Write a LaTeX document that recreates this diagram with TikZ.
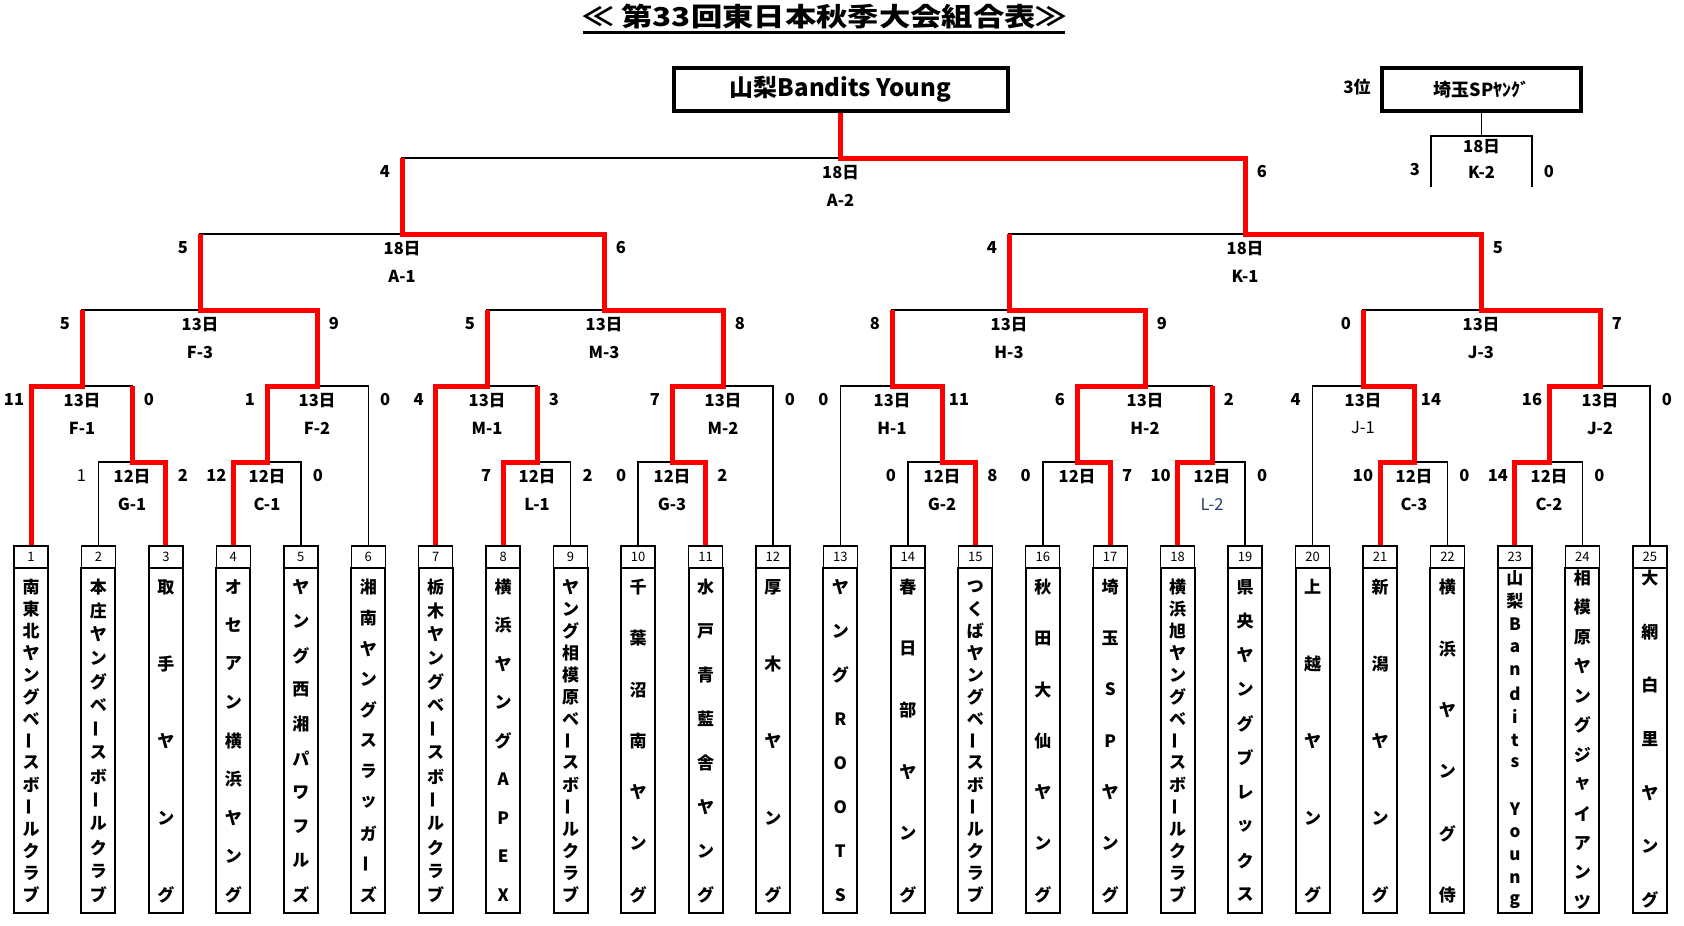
\documentclass[tikz,border=0pt]{standalone}
\usepackage{fontspec}
\setmainfont{Noto Sans CJK JP}
\definecolor{codeblue}{RGB}{40,60,110}
\newcommand\cho{\rotatebox[origin=c]{90}{ー}}
\newcommand\team[5]{%
  \pgfmathsetmacro\tx{31+(#1-1)*67.45}%
  \node[numbox] (n#1) at (\tx,557) {#1};
  \node[namebox] (b#1) at (\tx,740.5) {};
  \coordinate (t#1) at (n#1.north);
  \foreach \ch [count=\i from 0] in {#5} {%
    \pgfmathsetmacro\ty{#3+\i*(#4-#3)/(#2-1)}%
    \node[nch] (c#1-\i) at (\tx,\ty) {\ch};}%
}
\newcommand\mlab[9]{%
  \node[lab] (d#1) at (#2,#3+14.5) {#4};
  \node[lab] (k#1) at (#2,#3+42) {#5};
  \node[lab] (sl#1) at (#6-17,#3+13.5) {#8};
  \node[lab] (sr#1) at (#7+17,#3+13.5) {#9};}
\begin{document}
\begin{tikzpicture}[x=1pt,y=-1pt,
  numbox/.style={draw,line width=1.4pt,minimum width=34pt,minimum height=22pt,inner sep=0pt,font=\fontsize{13pt}{13pt}\selectfont},
  namebox/.style={draw,line width=2pt,minimum width=34pt,minimum height=345pt,inner sep=0pt},
  nch/.style={inner sep=0pt,font=\fontsize{17pt}{17pt}\selectfont\bfseries},
  lab/.style={inner sep=0pt,font=\fontsize{16.5pt}{17pt}\selectfont\bfseries},
  br/.style={line width=1.5pt,black},
  brt/.style={line width=2pt,black},
  win/.style={line width=5pt,red},
  bigbox/.style={draw,line width=4pt,inner sep=0pt}]
\fill[white] (0,0) rectangle (1684,926);
\useasboundingbox (0,0) rectangle (1684,926);

% title
\node[inner sep=0pt] (title) at (825,17) {\resizebox{484pt}{\height}{\fontsize{26pt}{26pt}\selectfont\bfseries ≪ 第33回東日本秋季大会組合表≫}};
\coordinate (ul1) at (583,32);
\coordinate (ul2) at (1065,32);
\draw[line width=3pt] (ul1) -- (ul2);

% champion and third place
\node[bigbox,minimum width=334pt,minimum height=43pt,font=\fontsize{24pt}{24pt}\selectfont\bfseries] (champ) at (840.5,89.5) {山梨Bandits Young};
\node[bigbox,minimum width=199pt,minimum height=43pt,font=\fontsize{18pt}{18pt}\selectfont\bfseries] (third) at (1481.5,89.5) {埼玉SPﾔﾝｸﾞ};
\node[inner sep=0pt,font=\fontsize{17pt}{17pt}\selectfont\bfseries] (thirdlab) at (1357,87) {3位};

% teams
\team{1}{15}{587}{895}{南,東,北,ヤ,ン,グ,ベ,\cho,ス,ボ,\cho,ル,ク,ラ,ブ}
\team{2}{14}{587}{895}{本,庄,ヤ,ン,グ,ベ,\cho,ス,ボ,\cho,ル,ク,ラ,ブ}
\team{3}{5}{587}{895}{取,手,ヤ,ン,グ}
\team{4}{9}{587}{895}{オ,セ,ア,ン,横,浜,ヤ,ン,グ}
\team{5}{10}{587}{895}{ヤ,ン,グ,西,湘,パ,ワ,フ,ル,ズ}
\team{6}{11}{587}{895}{湘,南,ヤ,ン,グ,ス,ラ,ッ,ガ,\cho,ズ}
\team{7}{14}{587}{895}{栃,木,ヤ,ン,グ,ベ,\cho,ス,ボ,\cho,ル,ク,ラ,ブ}
\team{8}{9}{587}{895}{横,浜,ヤ,ン,グ,A,P,E,X}
\team{9}{15}{587}{895}{ヤ,ン,グ,相,模,原,ベ,\cho,ス,ボ,\cho,ル,ク,ラ,ブ}
\team{10}{7}{587}{895}{千,葉,沼,南,ヤ,ン,グ}
\team{11}{8}{587}{895}{水,戸,青,藍,舎,ヤ,ン,グ}
\team{12}{5}{587}{895}{厚,木,ヤ,ン,グ}
\team{13}{8}{587}{895}{ヤ,ン,グ,R,O,O,T,S}
\team{14}{6}{587}{895}{春,日,部,ヤ,ン,グ}
\team{15}{15}{587}{895}{つ,く,ば,ヤ,ン,グ,ベ,\cho,ス,ボ,\cho,ル,ク,ラ,ブ}
\team{16}{7}{587}{895}{秋,田,大,仙,ヤ,ン,グ}
\team{17}{7}{587}{895}{埼,玉,S,P,ヤ,ン,グ}
\team{18}{15}{587}{895}{横,浜,旭,ヤ,ン,グ,ベ,\cho,ス,ボ,\cho,ル,ク,ラ,ブ}
\team{19}{10}{587}{895}{県,央,ヤ,ン,グ,ブ,レ,ッ,ク,ス}
\team{20}{5}{587}{895}{上,越,ヤ,ン,グ}
\team{21}{5}{587}{895}{新,潟,ヤ,ン,グ}
\team{22}{6}{587}{895}{横,浜,ヤ,ン,グ,侍}
\team{23}{15}{578}{902}{山,梨,B,a,n,d,i,t,s,{},Y,o,u,n,g}
\team{24}{12}{578}{902}{相,模,原,ヤ,ン,グ,ジ,ャ,イ,ア,ン,ツ}
\team{25}{7}{578}{900}{大,網,白,里,ヤ,ン,グ}

% match centres
\coordinate (mG1) at (132,462);
\coordinate (mC1) at (267,462);
\coordinate (mL1) at (537,462);
\coordinate (mG3) at (672,462);
\coordinate (mG2) at (942,462);
\coordinate (mX) at (1077,462);
\coordinate (mL2) at (1212,462);
\coordinate (mC3) at (1414,462);
\coordinate (mC2) at (1549,462);
\coordinate (mF1) at (82,386);
\coordinate (mF2) at (317,386);
\coordinate (mM1) at (487,386);
\coordinate (mM2) at (723,386);
\coordinate (mH1) at (892,386);
\coordinate (mH2) at (1145,386);
\coordinate (mJ1) at (1363,386);
\coordinate (mJ2) at (1600,386);
\coordinate (mF3) at (200,310);
\coordinate (mM3) at (604,310);
\coordinate (mH3) at (1009,310);
\coordinate (mJ3) at (1481,310);
\coordinate (mA1) at (402,234);
\coordinate (mK1) at (1245,234);
\coordinate (mA2) at (840.5,158);
\coordinate (mK2) at (1481.5,136);
\coordinate (kl) at (1431,187);
\coordinate (kr) at (1532,187);

% black bracket
\foreach \c/\m in {t2/mG1,t3/mG1,t4/mC1,t5/mC1,t8/mL1,t9/mL1,t10/mG3,t11/mG3,t14/mG2,t15/mG2,t16/mX,t17/mX,t18/mL2,t19/mL2,t21/mC3,t22/mC3,t23/mC2,t24/mC2,
  t1/mF1,mG1/mF1,mC1/mF2,t6/mF2,t7/mM1,mL1/mM1,mG3/mM2,t12/mM2,t13/mH1,mG2/mH1,mX/mH2,mL2/mH2,t20/mJ1,mC3/mJ1,mC2/mJ2,t25/mJ2,
  mF1/mF3,mF2/mF3,mM1/mM3,mM2/mM3,mH1/mH3,mH2/mH3,mJ1/mJ3,mJ2/mJ3,
  mF3/mA1,mM3/mA1,mH3/mK1,mJ3/mK1}
  {\draw[br] (\c) |- (\m);}
\draw[brt] (mA1) |- (mA2);
\draw[brt] (mK1) |- (mA2);
\draw[br] (third.south) -- (mK2);
\draw[br] (kl) |- (mK2);
\draw[br] (kr) |- (mK2);

% winners' paths
\draw[win] (t1) |- (mF1) -- (mF1 |- mF3);
\draw[win] (t3) |- (mG1) -- (mG1 |- mF1);
\draw[win] (t4) |- (mC1) |- (mF2) |- (mF3) -- (mF3 |- mA1);
\draw[win] (t7) |- (mM1) -- (mM1 |- mM3);
\draw[win] (t8) |- (mL1) -- (mL1 |- mM1);
\draw[win] (t11) |- (mG3) |- (mM2) |- (mM3) |- (mA1) -- (mA1 |- mA2);
\draw[win] (t15) |- (mG2) |- (mH1) -- (mH1 |- mH3);
\draw[win] (t17) |- (mX) |- (mH2) |- (mH3) -- (mH3 |- mK1);
\draw[win] (t18) |- (mL2) -- (mL2 |- mH2);
\draw[win] (t21) |- (mC3) |- (mJ1) -- (mJ1 |- mJ3);
\draw[win] (t23) |- (mC2) |- (mJ2) |- (mJ3) |- (mK1) |- (mA2) -- (champ.south);

% labels
\mlab{G1}{132}{462}{12日}{G-1}{98.45}{165.9}{\mdseries 1}{2}
\mlab{C1}{267}{462}{12日}{C-1}{233.35}{300.8}{12}{0}
\mlab{L1}{537}{462}{12日}{L-1}{503.15}{570.6}{7}{2}
\mlab{G3}{672}{462}{12日}{G-3}{638.05}{705.5}{0}{2}
\mlab{G2}{942}{462}{12日}{G-2}{907.85}{975.3}{0}{8}
\mlab{X}{1077}{462}{12日}{}{1042.75}{1110.2}{0}{7}
\mlab{L2}{1212}{462}{12日}{\mdseries\color{codeblue}L-2}{1177.65}{1245.1}{10}{0}
\mlab{C3}{1414}{462}{12日}{C-3}{1380}{1447.45}{10}{0}
\mlab{C2}{1549}{462}{12日}{C-2}{1514.9}{1582.35}{14}{0}
\mlab{F1}{82}{386}{13日}{F-1}{31}{132}{11}{0}
\mlab{F2}{317}{386}{13日}{F-2}{267}{368.25}{1}{0}
\mlab{M1}{487}{386}{13日}{M-1}{435.7}{537}{4}{3}
\mlab{M2}{723}{386}{13日}{M-2}{672}{772.95}{7}{0}
\mlab{H1}{892}{386}{13日}{H-1}{840.4}{942}{0}{11}
\mlab{H2}{1145}{386}{13日}{H-2}{1077}{1212}{6}{2}
\mlab{J1}{1363}{386}{13日}{\mdseries J-1}{1312.55}{1414}{4}{14}
\mlab{J2}{1600}{386}{13日}{J-2}{1549}{1649.8}{16}{0}
\mlab{F3}{200}{310}{13日}{F-3}{82}{317}{5}{9}
\mlab{M3}{604}{310}{13日}{M-3}{487}{723}{5}{8}
\mlab{H3}{1009}{310}{13日}{H-3}{892}{1145}{8}{9}
\mlab{J3}{1481}{310}{13日}{J-3}{1363}{1600}{0}{7}
\mlab{A1}{402}{234}{18日}{A-1}{200}{604}{5}{6}
\mlab{K1}{1245}{234}{18日}{K-1}{1009}{1481}{4}{5}
\mlab{A2}{840.5}{158}{18日}{A-2}{402}{1245}{4}{6}
\node[lab] (dK2) at (1481.5,147) {18日};
\node[lab] (kK2) at (1481.5,172) {K-2};
\node[lab] (slK2) at (1415,170) {3};
\node[lab] (srK2) at (1549,172) {0};
\end{tikzpicture}
\end{document}
